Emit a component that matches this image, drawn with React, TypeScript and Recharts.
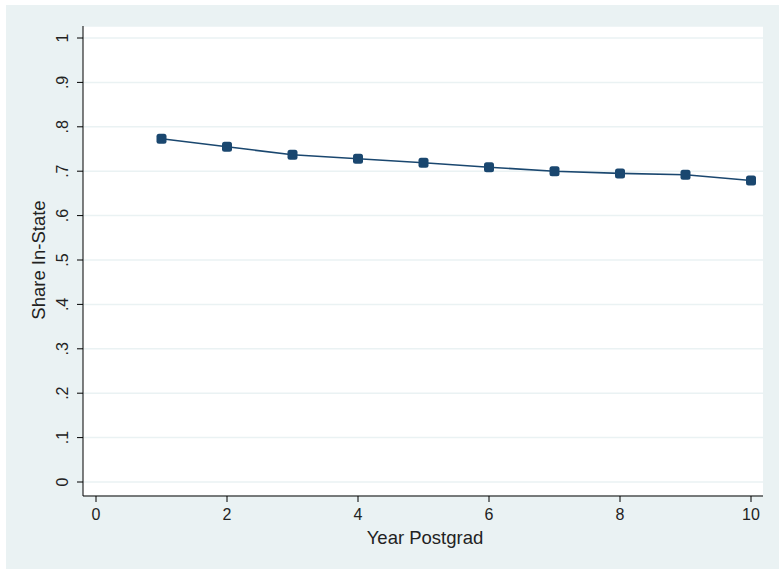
import { LineChart, Line, XAxis, YAxis, CartesianGrid, Label } from 'recharts';

const years = [1, 2, 3, 4, 5, 6, 7, 8, 9, 10];
const shareInState = [0.773, 0.755, 0.737, 0.728, 0.719, 0.709, 0.7, 0.695, 0.692, 0.679];
const xTicks = [0, 2, 4, 6, 8, 10];
const yTicks = [0, 0.1, 0.2, 0.3, 0.4, 0.5, 0.6, 0.7, 0.8, 0.9, 1];

const data = years.map((year, i) => ({ year, share: shareInState[i] }));

const NAVY = '#1a476f';
const FONT = '"Liberation Sans", Arial, Helvetica, sans-serif';

const fmtY = (v: number) => (v === 0 ? '0' : v === 1 ? '1' : '.' + Math.round(v * 10));

const YTick = (props: any) => {
  const { x, y, payload } = props;
  return (
    <text
      x={x}
      y={y}
      transform={`rotate(-90, ${x}, ${y})`}
      textAnchor="middle"
      fontSize={16}
      fontFamily={FONT}
      fill="#222"
    >
      {fmtY(payload.value)}
    </text>
  );
};

const Marker = (props: any) => {
  const { cx, cy } = props;
  if (cx == null || cy == null) return null;
  return <rect x={cx - 5} y={cy - 5} width={10} height={10} rx={2.5} fill={NAVY} />;
};

export default function App() {
  return (
    <div style={{ position: 'absolute', left: 0, top: 0, width: 779, height: 569, background: '#fff', fontFamily: FONT }}>
      <div style={{ position: 'absolute', left: 6, top: 5, width: 773, height: 564, background: '#eaf2f3' }} />
      <div style={{ position: 'absolute', left: 0, top: 0 }}>
        <LineChart width={779} height={569} data={data} margin={{ top: 26, right: 16, left: 0, bottom: 0 }}>
          <CartesianGrid fill="#fff" vertical={false} stroke="#eaf2f3" strokeWidth={1.5} />
          <XAxis
            dataKey="year"
            type="number"
            domain={[0, 10]}
            ticks={xTicks}
            height={73}
            padding={{ left: 13, right: 12 }}
            tickSize={6}
            tickMargin={7}
            stroke="#000"
            tick={{ fontSize: 16, fill: '#222', fontFamily: FONT }}
          >
            <Label
              content={({ viewBox }: any) => (
                <text
                  x={viewBox.x + viewBox.width / 2 + 2}
                  y={544}
                  textAnchor="middle"
                  fontSize={18.5}
                  fontFamily={FONT}
                  fill="#222"
                >
                  Year Postgrad
                </text>
              )}
            />
          </XAxis>
          <YAxis
            type="number"
            domain={[0, 1]}
            ticks={yTicks}
            width={83}
            padding={{ top: 12, bottom: 14 }}
            tickSize={6}
            tickMargin={9}
            stroke="#000"
            tick={<YTick />}
            interval={0}
          >
            <Label
              content={() => (
                <text
                  x={45}
                  y={260}
                  transform="rotate(-90, 45, 260)"
                  textAnchor="middle"
                  fontSize={18.5}
                  fontFamily={FONT}
                  fill="#222"
                >
                  Share In-State
                </text>
              )}
            />
          </YAxis>
          <Line
            type="linear"
            dataKey="share"
            stroke={NAVY}
            strokeWidth={1.6}
            dot={<Marker />}
            activeDot={false}
            isAnimationActive={false}
          />
        </LineChart>
      </div>
    </div>
  );
}
